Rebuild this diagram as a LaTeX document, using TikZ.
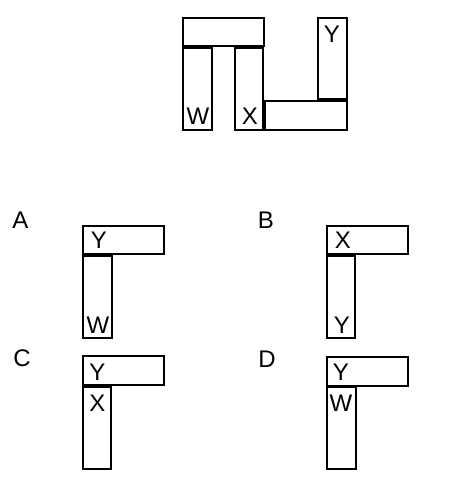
\documentclass[tikz,border=0pt]{standalone}
\usepackage{fontspec}
\setmainfont{Liberation Sans}
\begin{document}
\begin{tikzpicture}[x=1pt,y=-1pt,
  bar/.style={draw=black,line width=2pt,fill=white},
  lab/.style={anchor=base,inner sep=0pt,font=\fontsize{24}{28}\selectfont}]
\useasboundingbox (0,0) rectangle (469,493);
% top figure
\draw[bar] (183,18) rectangle (264,46);
\draw[bar] (183,47.5) rectangle (212,130);
\draw[bar] (235,47.5) rectangle (263,130);
\draw[bar] (264.5,100.5) rectangle (347,130);
\draw[bar] (318,18) rectangle (347,99);
\node[lab] (tw) at (198,124) {W};
\node[lab] (tx) at (250,124) {X};
\node[lab] (ty) at (332,42) {Y};
% option A
\node[lab] (la) at (20.5,228) {A};
\draw[bar] (83,226) rectangle (164,254);
\draw[bar] (83,255.5) rectangle (112,338);
\node[lab] (ay) at (99,248) {Y};
\node[lab] (aw) at (98,333) {W};
% option B
\node[lab] (lb) at (266,228) {B};
\draw[bar] (327,226) rectangle (408,254);
\draw[bar] (327,255.5) rectangle (355,338);
\node[lab] (bx) at (343,248) {X};
\node[lab] (by) at (342,333) {Y};
% option C
\node[lab] (lc) at (22,366) {C};
\draw[bar] (83,356) rectangle (164,385);
\draw[bar] (83,386.5) rectangle (111,469);
\node[lab] (cy) at (97.5,380) {Y};
\node[lab] (cx) at (97.5,411) {X};
% option D
\node[lab] (ld) at (267,367) {D};
\draw[bar] (327,357) rectangle (408,385.5);
\draw[bar] (327,387) rectangle (356,469);
\node[lab] (dy) at (341,380) {Y};
\node[lab] (dw) at (341,411) {W};
\end{tikzpicture}
\end{document}
